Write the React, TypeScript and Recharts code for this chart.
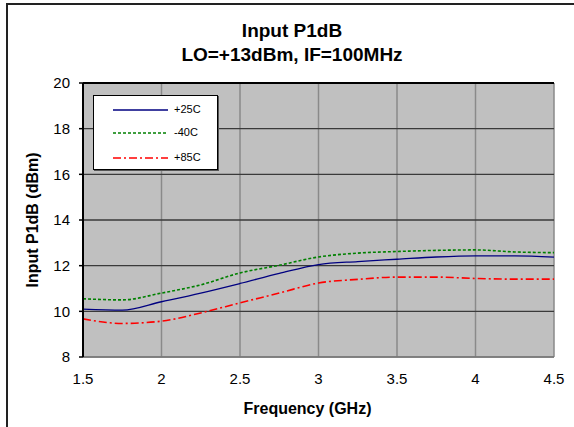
import React from 'react'
import {
  LineChart,
  Line,
  XAxis,
  YAxis,
  CartesianGrid,
  ReferenceLine,
  Legend,
} from 'recharts'

// Frequency (GHz) sample points
const freqs = [1.5, 1.75, 2.0, 2.25, 2.5, 2.75, 3.0, 3.25, 3.5, 3.75, 4.0, 4.25, 4.5]

// Input P1dB (dBm) per temperature
const p25 = [10.1, 10.05, 10.42, 10.8, 11.22, 11.66, 12.05, 12.18, 12.28, 12.38, 12.43, 12.43, 12.37]
const m40 = [10.55, 10.5, 10.8, 11.16, 11.68, 12.02, 12.38, 12.55, 12.62, 12.67, 12.69, 12.6, 12.57]
const p85 = [9.67, 9.47, 9.57, 9.93, 10.37, 10.8, 11.24, 11.4, 11.5, 11.5, 11.44, 11.41, 11.41]

const xTicks = [1.5, 2, 2.5, 3, 3.5, 4, 4.5]
const yTicks = [8, 10, 12, 14, 16, 18, 20]

const series = [
  { key: 'p25', name: '+25C', color: '#000080', dash: undefined as string | undefined, width: 1.3 },
  { key: 'm40', name: '-40C', color: '#008000', dash: '3 2', width: 1.6 },
  { key: 'p85', name: '+85C', color: '#FF0000', dash: '8 3 2 3', width: 1.6 },
]

const data = freqs.map((f, i) => ({ f, p25: p25[i], m40: m40[i], p85: p85[i] }))

const font = 'Arial, "Liberation Sans", Helvetica, sans-serif'

function LegendBox() {
  return (
    <div
      style={{
        width: 123,
        height: 73,
        background: '#fff',
        border: '1px solid #000',
        boxShadow: '1px 1px 0 #555',
        fontFamily: font,
        fontSize: 11,
        boxSizing: 'content-box',
      }}
    >
      {series.map((s, i) => (
        <div key={s.key} style={{ position: 'relative', height: i === 1 ? 25 : 24 }}>
          <svg width={60} height={10} style={{ position: 'absolute', left: 17, top: i === 0 ? 9 : 8 }}>
            <line x1={2} y1={5} x2={57} y2={5} stroke={s.color} strokeWidth={s.width} strokeDasharray={s.dash} />
          </svg>
          <span style={{ position: 'absolute', left: 80, top: i === 0 ? 7 : 6, color: '#000' }}>{s.name}</span>
        </div>
      ))}
    </div>
  )
}

export default function App() {
  return (
    <div style={{ position: 'absolute', left: 0, top: 0, width: 574, height: 427, background: '#fff', overflow: 'hidden', fontFamily: font }}>
      <div style={{ position: 'absolute', left: 0, width: 584, top: 19, textAlign: 'center', fontWeight: 'bold', fontSize: 19, lineHeight: '24px', color: '#000' }}>
        <div>Input P1dB</div>
        <div>LO=+13dBm, IF=100MHz</div>
      </div>
      <div style={{ position: 'absolute', left: 0, top: 0 }}>
        <LineChart width={574} height={427} data={data} margin={{ top: 83, right: 20, bottom: 40, left: 23 }}>
          <CartesianGrid horizontal={false} vertical stroke="#8a8a8a" strokeWidth={1.5} fill="#C0C0C0" />
          <CartesianGrid vertical={false} horizontal stroke="#3a3a3a" strokeWidth={1.3} />
          <XAxis
            dataKey="f"
            type="number"
            domain={[1.5, 4.5]}
            ticks={xTicks}
            tickLine={false}
            tickSize={6}
            tickMargin={10}
            height={30}
            axisLine={{ stroke: '#8a8a8a', strokeWidth: 1.5 }}
            tick={{ fill: '#000', fontSize: 15, fontFamily: font }}
            label={{ value: 'Frequency (GHz)', position: 'insideBottom', offset: -27, dx: -11, fill: '#000', fontSize: 16, fontWeight: 'bold', fontFamily: font }}
          />
          <YAxis
            type="number"
            domain={[8, 20]}
            ticks={yTicks}
            width={60}
            tickSize={4}
            tickMargin={9}
            axisLine={{ stroke: '#000', strokeWidth: 2 }}
            tickLine={{ stroke: '#000', strokeWidth: 1.5 }}
            tick={{ fill: '#000', fontSize: 15, fontFamily: font }}
            label={{ value: 'Input P1dB (dBm)', angle: -90, position: 'insideLeft', offset: 9, fill: '#000', fontSize: 16, fontWeight: 'bold', fontFamily: font, style: { textAnchor: 'middle' } }}
          />
          <ReferenceLine y={20} stroke="#000" strokeWidth={2} />
          <Legend
            layout="horizontal"
            verticalAlign="middle"
            align="center"
            wrapperStyle={{ left: 93, top: 95, width: 125, height: 75 }}
            content={() => <LegendBox />}
          />
          {series.map(s => (
            <Line
              key={s.key}
              dataKey={s.key}
              name={s.name}
              type="monotone"
              stroke={s.color}
              strokeWidth={s.width}
              strokeDasharray={s.dash}
              dot={false}
              isAnimationActive={false}
            />
          ))}
        </LineChart>
      </div>
      {/* outer chart frame, right/bottom edges cropped off */}
      <div style={{ position: 'absolute', left: 6, top: 3, width: 620, height: 480, borderLeft: '2px solid #222', borderTop: '2px solid #222', zIndex: 5, pointerEvents: 'none' }} />
    </div>
  )
}
